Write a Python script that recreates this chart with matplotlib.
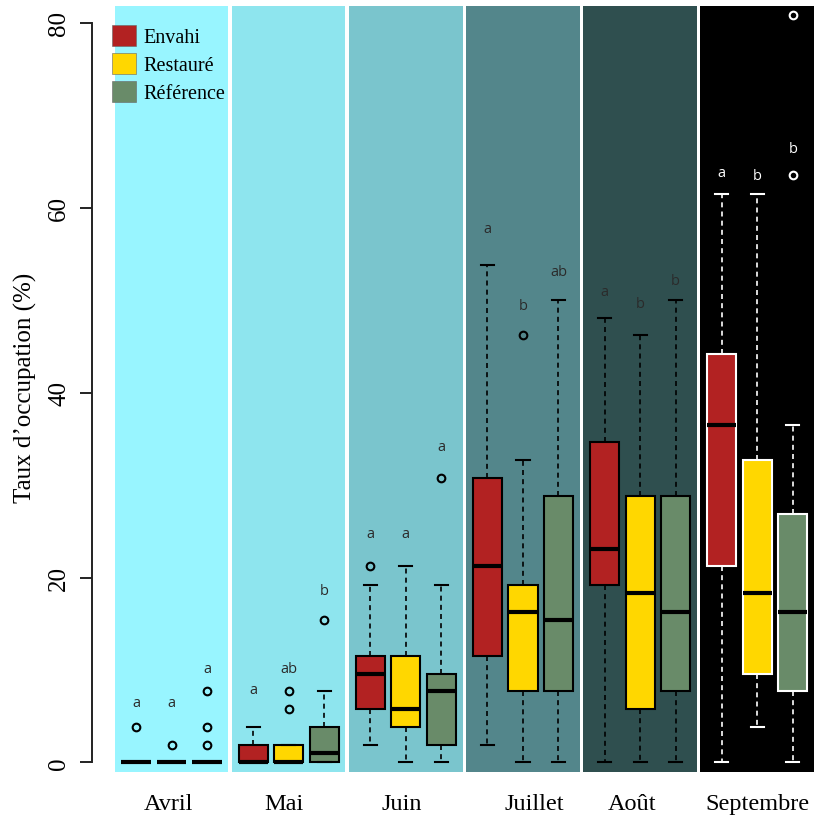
import matplotlib
matplotlib.use("Agg")
import matplotlib.pyplot as plt
from matplotlib.patches import Patch

# months and treatments
months = ["Avril", "Mai", "Juin", "Juillet", "Août", "Septembre"]
treatments = ["Envahi", "Restauré", "Référence"]

# box statistics, one entry per box (month x treatment)
whislo = [0, 0, 0,   0, 0, 0,   1.9, 0, 0,   1.9, 0, 0,   0, 0, 0,   0, 3.8, 0]
q1 = [0, 0, 0,   0, 0, 0,   5.8, 3.8, 1.9,   11.5, 7.7, 7.7,   19.2, 5.8, 7.7,   21.2, 9.6, 7.7]
med = [0, 0, 0,   0, 0, 1.0,   9.6, 5.8, 7.7,   21.2, 16.3, 15.4,   23.1, 18.3, 16.3,   36.5, 18.3, 16.3]
q3 = [0, 0, 0,   1.9, 1.9, 3.8,   11.5, 11.5, 9.6,   30.8, 19.2, 28.8,   34.6, 28.8, 28.8,   44.2, 32.7, 26.9]
whishi = [0, 0, 0,   3.8, 1.9, 7.7,   19.2, 21.2, 19.2,   53.8, 32.7, 50.0,   48.1, 46.2, 50.0,   61.5, 61.5, 36.5]
fliers = [[3.8], [1.9], [1.9, 3.8, 7.7],
          [], [5.8, 7.7], [15.4],
          [21.2], [], [30.8],
          [], [46.2], [],
          [], [], [],
          [], [], [63.5, 80.8]]

# significance letters and their heights
letters = ["a", "a", "a",  "a", "ab", "b",  "a", "a", "a",
           "a", "b", "ab",  "a", "b", "b",  "a", "b", "b"]
letter_y = [6.5, 6.5, 10.2,  7.9, 10.2, 18.6,  24.8, 24.8, 34.2,
            57.7, 49.4, 53.1,  50.9, 49.6, 52.1,  63.8, 63.5, 66.4]

box_colors = ["#B22222", "#FFD700", "#698B69"]
panel_colors = ["#98F5FF", "#8EE5EE", "#7AC5CD", "#53868B", "#2F4F4F", "#000000"]
label_x = [1.90, 5.17, 8.49, 12.21, 14.97, 18.50]

serif = "Liberation Serif"

fig = plt.figure(figsize=(8.18, 8.20), dpi=100)
ax = fig.add_axes([92 / 818, 47 / 820, 726 / 818, 766 / 820])
ax.set_xlim(-0.24, 20.21)
ax.set_ylim(-1.03, 81.8)

for g in range(len(months)):
    x0 = 1 + 3.3 * g
    ax.axvspan(x0 - 0.6, x0 + 2.6, color=panel_colors[g], zorder=0, lw=0)

    dark = g == len(months) - 1
    ec = "white" if dark else "black"
    stats = []
    for j in range(3):
        k = 3 * g + j
        stats.append(dict(whislo=whislo[k], q1=q1[k], med=med[k], q3=q3[k],
                          whishi=whishi[k], fliers=fliers[k]))
    pos = [x0 + j for j in range(3)]
    bp = ax.bxp(stats, positions=pos, widths=0.82, capwidths=0.37,
                patch_artist=True, manage_ticks=False,
                boxprops=dict(edgecolor=ec, linewidth=1.5),
                medianprops=dict(color="black", linewidth=3, solid_capstyle="butt"),
                whiskerprops=dict(color=ec, linewidth=1.2, linestyle=(0, (3, 2.5))),
                capprops=dict(color=ec, linewidth=1.5),
                flierprops=dict(marker="o", markerfacecolor="none",
                                markeredgecolor=ec, markersize=5.5,
                                markeredgewidth=1.5))
    for patch, c in zip(bp["boxes"], box_colors):
        patch.set_facecolor(c)
        patch.set_zorder(2)

    tc = "white" if dark else "#2b2b2b"
    for j in range(3):
        k = 3 * g + j
        ax.text(pos[j], letter_y[k], letters[k], ha="center", va="center",
                fontsize=10.5, color=tc, family="Open Sans")

# axes styling
for s in ["top", "right", "bottom"]:
    ax.spines[s].set_visible(False)
ax.spines["left"].set_bounds(0, 80)
ax.spines["left"].set_linewidth(1.4)
ax.spines["left"].set_color("#222222")
ax.set_yticks([0, 20, 40, 60, 80])
ax.set_yticklabels(["0", "20", "40", "60", "80"], rotation=90, va="center",
                   family=serif, fontsize=18)
ax.tick_params(axis="y", length=8.6, width=1.4, pad=7, color="#222222")

ax.set_xticks(label_x)
ax.set_xticklabels(months, family=serif, fontsize=17.5)
ax.tick_params(axis="x", length=0, pad=15)

fig.text(25 / 818, 1 - 388 / 820, "Taux d’occupation (%)", rotation=90,
         ha="center", va="center", family=serif, fontsize=18)

handles = [Patch(facecolor=c, edgecolor="#666666", linewidth=0.4) for c in box_colors]
ax.legend(handles, treatments, loc="upper left",
          bbox_to_anchor=(112 / 818, 1 - 26 / 820), bbox_transform=fig.transFigure,
          frameon=False, borderpad=0, borderaxespad=0, handlelength=1.2,
          handleheight=1.2, handletextpad=0.35, labelspacing=0.3,
          prop=dict(family=serif, size=14.5))

fig.savefig("out.png", dpi=100, facecolor="white")
